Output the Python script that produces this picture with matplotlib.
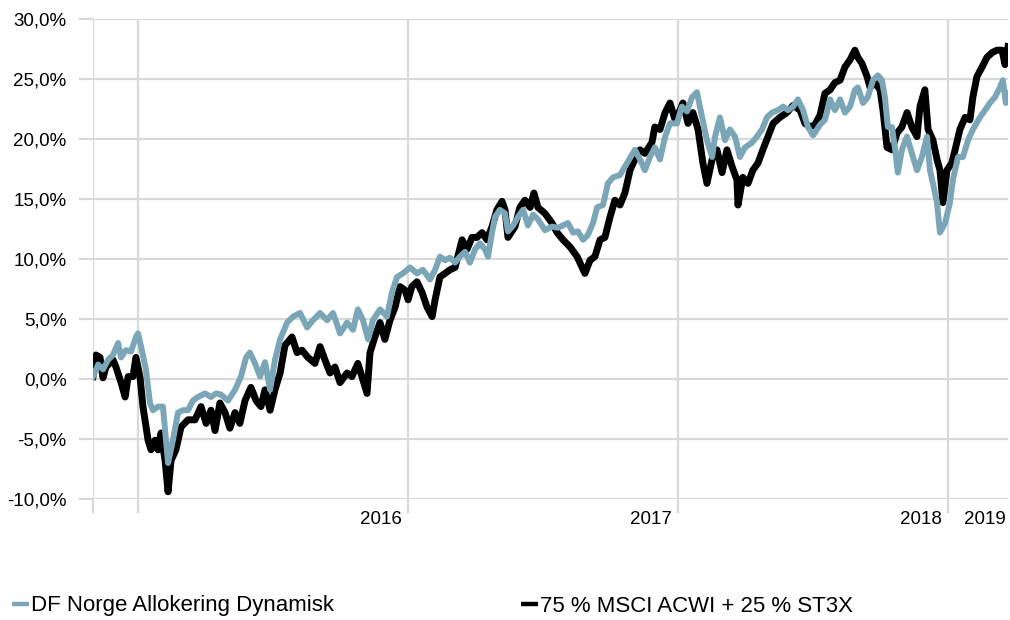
import matplotlib
matplotlib.use("Agg")
import matplotlib.pyplot as plt
from matplotlib.lines import Line2D
from matplotlib.transforms import ScaledTranslation
import numpy as np

# ---- data: time in years since start of series, values in percent ----
df_t = [0.000, 0.019, 0.037, 0.056, 0.074, 0.093, 0.104, 0.122, 0.141, 0.159,
        0.167, 0.178, 0.196, 0.211, 0.222, 0.241, 0.259, 0.278, 0.296, 0.315,
        0.333, 0.352, 0.370, 0.389, 0.415, 0.437, 0.456, 0.474, 0.500, 0.526,
        0.548, 0.567, 0.581, 0.600, 0.619, 0.637, 0.656, 0.674, 0.693, 0.719,
        0.741, 0.767, 0.793, 0.815, 0.841, 0.867, 0.889, 0.915, 0.941, 0.963,
        0.981, 1.000, 1.019, 1.037, 1.063, 1.089, 1.107, 1.126, 1.148, 1.174,
        1.200, 1.222, 1.248, 1.267, 1.285, 1.304, 1.322, 1.341, 1.359, 1.378,
        1.396, 1.415, 1.433, 1.452, 1.463, 1.478, 1.489, 1.507, 1.526, 1.537,
        1.556, 1.574, 1.593, 1.611, 1.630, 1.648, 1.674, 1.700, 1.722, 1.741,
        1.759, 1.778, 1.796, 1.815, 1.833, 1.852, 1.867, 1.889, 1.907, 1.926,
        1.952, 1.978, 2.007, 2.026, 2.044, 2.063, 2.081, 2.100, 2.119, 2.137,
        2.163, 2.181, 2.200, 2.219, 2.237, 2.256, 2.274, 2.293, 2.304, 2.322,
        2.341, 2.359, 2.378, 2.396, 2.415, 2.441, 2.459, 2.478, 2.496, 2.515,
        2.537, 2.556, 2.574, 2.593, 2.611, 2.630, 2.648, 2.667, 2.693, 2.711,
        2.730, 2.748, 2.767, 2.785, 2.804, 2.822, 2.833, 2.852, 2.870, 2.889,
        2.907, 2.922, 2.933, 2.944, 2.959, 2.970, 2.981, 2.996, 3.015, 3.033,
        3.052, 3.070, 3.089, 3.100, 3.111, 3.126, 3.137, 3.156, 3.174, 3.185,
        3.204, 3.222, 3.241, 3.259, 3.285, 3.304, 3.322, 3.341, 3.359, 3.370,
        3.381, 3.389]
df_values = [0.2, 1.2, 0.8, 1.6, 2.0, 3.0, 1.8, 2.4, 2.3, 3.5,
             3.8, 2.7, 0.8, -2.0, -2.6, -2.3, -2.3, -7.0, -5.1, -2.8,
             -2.6, -2.6, -1.8, -1.5, -1.2, -1.5, -1.2, -1.3, -1.8, -0.9,
             0.2, 1.8, 2.2, 1.3, 0.2, 1.4, -0.9, 1.6, 3.3, 4.7,
             5.2, 5.5, 4.3, 4.9, 5.5, 4.9, 5.5, 3.8, 4.7, 4.1,
             5.8, 4.9, 3.3, 4.9, 5.8, 5.2, 7.2, 8.5, 8.8, 9.3,
             8.8, 9.1, 8.3, 9.1, 10.2, 9.9, 10.1, 9.7, 10.2, 10.6,
             9.7, 10.8, 11.3, 10.8, 10.2, 12.2, 13.5, 14.1, 13.8, 12.3,
             12.8, 13.5, 14.1, 12.8, 13.7, 13.3, 12.4, 12.7, 12.6, 12.8,
             13.0, 12.2, 12.3, 11.6, 12.0, 13.0, 14.3, 14.5, 16.3, 16.8,
             17.0, 18.0, 19.1, 18.3, 17.4, 18.5, 19.3, 18.3, 20.2, 21.3,
             21.3, 22.7, 22.3, 23.5, 23.9, 21.8, 19.9, 18.5, 20.2, 21.8,
             19.9, 20.8, 20.2, 18.5, 19.3, 19.7, 20.2, 20.8, 21.8, 22.2,
             22.4, 22.7, 22.4, 22.7, 23.3, 22.4, 21.0, 20.3, 21.2, 21.6,
             23.3, 22.4, 23.3, 22.2, 22.7, 24.1, 24.3, 23.0, 23.5, 24.9,
             25.3, 24.9, 23.5, 21.0, 21.0, 19.3, 17.2, 19.1, 20.2, 18.8,
             17.4, 18.5, 20.2, 17.4, 16.3, 14.7, 12.2, 13.0, 14.7, 16.6,
             18.5, 18.5, 19.9, 20.8, 21.8, 22.4, 23.0, 23.5, 24.3, 24.9,
             23.0, 23.8]

bm_t = [0.000, 0.011, 0.026, 0.037, 0.048, 0.074, 0.085, 0.104, 0.119, 0.130,
        0.148, 0.159, 0.174, 0.185, 0.204, 0.215, 0.230, 0.241, 0.252, 0.267,
        0.278, 0.289, 0.307, 0.326, 0.352, 0.378, 0.400, 0.419, 0.437, 0.452,
        0.470, 0.489, 0.507, 0.526, 0.544, 0.563, 0.585, 0.604, 0.622, 0.637,
        0.656, 0.674, 0.693, 0.711, 0.737, 0.756, 0.774, 0.796, 0.822, 0.841,
        0.859, 0.878, 0.896, 0.915, 0.941, 0.959, 0.981, 1.000, 1.015, 1.026,
        1.044, 1.063, 1.081, 1.100, 1.119, 1.137, 1.156, 1.167, 1.181, 1.200,
        1.219, 1.237, 1.256, 1.267, 1.285, 1.304, 1.322, 1.341, 1.367, 1.385,
        1.404, 1.422, 1.441, 1.459, 1.478, 1.496, 1.515, 1.526, 1.537, 1.563,
        1.581, 1.600, 1.619, 1.633, 1.648, 1.674, 1.700, 1.719, 1.741, 1.767,
        1.793, 1.822, 1.841, 1.859, 1.878, 1.896, 1.915, 1.933, 1.952, 1.970,
        1.989, 2.007, 2.026, 2.044, 2.070, 2.081, 2.100, 2.119, 2.137, 2.156,
        2.174, 2.185, 2.204, 2.222, 2.241, 2.259, 2.274, 2.293, 2.311, 2.330,
        2.348, 2.367, 2.385, 2.389, 2.407, 2.426, 2.444, 2.463, 2.481, 2.500,
        2.519, 2.544, 2.570, 2.593, 2.619, 2.637, 2.656, 2.674, 2.693, 2.711,
        2.730, 2.748, 2.767, 2.785, 2.804, 2.822, 2.833, 2.848, 2.867, 2.878,
        2.896, 2.915, 2.926, 2.941, 2.959, 2.978, 2.996, 3.015, 3.033, 3.052,
        3.063, 3.081, 3.093, 3.111, 3.126, 3.137, 3.148, 3.163, 3.181, 3.193,
        3.211, 3.230, 3.248, 3.259, 3.274, 3.293, 3.311, 3.330, 3.348, 3.367,
        3.378, 3.389]
bm_values = [0.2, 2.0, 1.8, 0.1, 1.0, 1.6, 1.0, -0.3, -1.5, 0.2,
             0.2, 1.8, 0.2, -2.3, -5.1, -5.9, -5.1, -5.9, -4.5, -6.8,
             -9.4, -6.8, -5.9, -4.0, -3.4, -3.4, -2.3, -3.7, -2.6, -4.3,
             -2.0, -2.8, -4.1, -2.8, -3.7, -1.8, -0.7, -1.8, -2.3, -0.9,
             -2.6, -0.9, 0.5, 2.8, 3.5, 2.2, 2.4, 1.8, 1.3, 2.7,
             1.6, 0.5, 1.0, -0.3, 0.5, 0.2, 1.3, -0.1, -1.2, 2.2,
             3.5, 4.7, 3.3, 4.9, 6.0, 7.7, 7.4, 6.6, 7.7, 8.1,
             7.2, 6.0, 5.2, 6.6, 8.5, 8.8, 9.1, 9.3, 11.6, 10.8,
             11.8, 11.8, 12.2, 11.6, 12.7, 14.1, 14.8, 14.1, 11.8, 12.7,
             14.3, 14.9, 14.3, 15.5, 14.3, 13.8, 13.0, 12.2, 11.6, 11.0,
             10.2, 8.8, 9.9, 10.2, 11.6, 11.8, 13.5, 14.9, 14.5, 15.5,
             17.4, 18.3, 19.1, 18.8, 19.7, 21.0, 20.8, 22.2, 23.0, 21.6,
             22.4, 23.0, 21.3, 22.2, 20.8, 18.0, 16.3, 18.3, 19.1, 17.2,
             19.1, 17.7, 16.6, 14.5, 16.8, 16.3, 17.4, 18.0, 19.1, 20.2,
             21.3, 21.8, 22.2, 22.8, 22.4, 21.3, 21.0, 21.2, 22.0, 23.8,
             24.1, 24.7, 24.9, 26.0, 26.6, 27.4, 26.8, 26.3, 25.2, 24.3,
             24.7, 24.1, 22.4, 19.3, 19.1, 20.5, 21.0, 22.2, 21.0, 20.2,
             22.7, 24.1, 20.8, 19.9, 18.3, 17.4, 14.7, 17.4, 18.0, 19.1,
             20.8, 21.8, 21.6, 23.5, 25.2, 26.0, 26.8, 27.2, 27.4, 27.4,
             26.2, 27.7]

assert len(df_t) == len(df_values)
assert len(bm_t) == len(bm_values)

series_names = ["DF Norge Allokering Dynamisk", "75 % MSCI ACWI + 25 % ST3X"]
year_tick_pos = [0.0, 1 / 6, 7 / 6, 13 / 6, 19 / 6]
year_tick_labels = ["", "", "2016", "2017", "2018"]
end_label = "2019"
y_ticks = [-10, -5, 0, 5, 10, 15, 20, 25, 30]

# ---- styling ----
BLUE = "#7AA6B8"
BLACK = "#000000"
GRID = "#D9D9D9"
plt.rcParams["font.family"] = ["Liberation Sans", "DejaVu Sans"]

fig = plt.figure(figsize=(10.1, 6.2), dpi=100)
ax = fig.add_axes([93 / 1010, 1 - 499 / 620, (1008 - 93) / 1010, 480 / 620])

ax.plot(bm_t, bm_values, color=BLACK, lw=5.0, solid_joinstyle="round", zorder=3)
ax.plot(df_t, df_values, color=BLUE, lw=4.3, solid_joinstyle="round", zorder=4)

xmax = max(df_t[-1], bm_t[-1])
ax.set_xlim(0, xmax)
ax.set_ylim(-10, 30)

ax.set_yticks(y_ticks)
ax.set_yticklabels([f"{v:.1f}%".replace(".", ",") for v in y_ticks])
ax.set_xticks(year_tick_pos)
ax.set_xticklabels(year_tick_labels, ha="right")
ax.set_xticks([xmax], minor=True)
ax.set_xticklabels([end_label], minor=True, ha="right")

for s in ax.spines.values():
    s.set_visible(False)
ax.set_axisbelow(True)
ax.grid(True, which="major", color=GRID, lw=1.6)
ax.tick_params(which="major", axis="both", color=GRID, width=1.6, length=10,
               labelsize=13.5, labelcolor="black")
ax.tick_params(axis="y", pad=9)
ax.tick_params(axis="x", which="major", pad=-1)
ax.tick_params(axis="x", which="minor", length=0, pad=9, labelsize=13.5,
               labelcolor="black")

off = ScaledTranslation(-6 / 100, 0, fig.dpi_scale_trans)
for lab in ax.get_xticklabels() + ax.get_xticklabels(minor=True):
    lab.set_transform(lab.get_transform() + off)
ax.get_xticklabels(minor=True)[0].set_transform(
    ax.get_xticklabels(minor=True)[0].get_transform() + ScaledTranslation(4 / 100, 0, fig.dpi_scale_trans))

# ---- legend (two entries placed at bottom) ----
for name, color, x0 in [(series_names[0], BLUE, 12), (series_names[1], BLACK, 521)]:
    h = Line2D([], [], color=color, lw=3.2, solid_capstyle="butt")
    fig.legend([h], [name], loc="center left",
               bbox_to_anchor=(x0 / 1010, 1 - 606 / 620),
               frameon=False, fontsize=16, handlelength=0.75,
               handletextpad=0.1, borderpad=0, borderaxespad=0)

fig.savefig("out.png", dpi=100)
